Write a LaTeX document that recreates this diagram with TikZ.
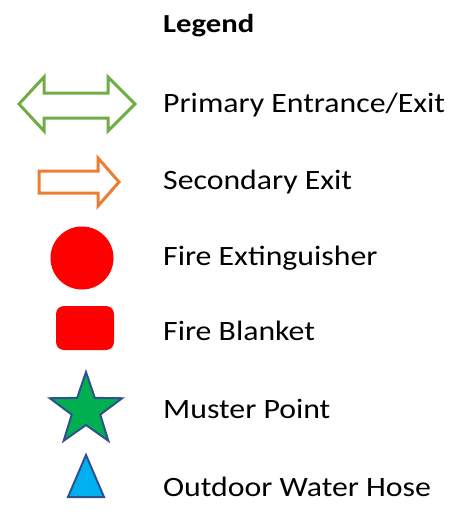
\documentclass[tikz,border=0pt]{standalone}
\usepackage{fontspec}
\setmainfont{Carlito}[FakeStretch=1.135]
\newfontfamily\legendfont{Carlito}[FakeStretch=1.18]
\definecolor{lgreen}{HTML}{70AD47}
\definecolor{lorange}{HTML}{ED7D31}
\definecolor{lred}{HTML}{FF0000}
\definecolor{sgreen}{HTML}{00B050}
\definecolor{sblue}{HTML}{00B0F0}
\definecolor{dblue}{HTML}{2F528F}
\tikzset{
  lbl/.style={anchor=base west, inner sep=0pt, font=\fontsize{28}{30}\selectfont},
  ttl/.style={anchor=base west, inner sep=0pt, font=\legendfont\fontsize{26}{28}\selectfont\bfseries},
  arrowshape/.style={line width=3pt, line join=miter, fill=white},
  redfill/.style={fill=lred, draw=none},
  blueedge/.style={draw=dblue, line width=2pt, line join=miter}
}
\begin{document}
\begin{tikzpicture}[x=1pt,y=-1pt]
\useasboundingbox (0,0) rectangle (462,519);
\node[ttl] (title) at (163,33) {Legend};
% primary double arrow
\draw[arrowshape, draw=lgreen] (19,104) -- (44,77) -- (44,93) -- (108,93) -- (108,77) -- (135,104) -- (108,131) -- (108,118) -- (44,118) -- (44,131) -- cycle;
\node[lbl] (primary) at (163,112) {Primary Entrance/Exit};
% secondary arrow
\draw[arrowshape, draw=lorange] (39,171) -- (98,171) -- (98,158) -- (119,182) -- (98,206) -- (98,193) -- (39,193) -- cycle;
\node[lbl] (secondary) at (163,189) {Secondary Exit};
% extinguisher
\fill[redfill] (82,258) circle (31.5);
\node[lbl] (ext) at (163,265) {Fire Extinguisher};
% blanket
\fill[redfill, rounded corners=8pt] (56,306) rectangle (114,350);
\node[lbl] (blanket) at (163,340) {Fire Blanket};
% muster star
\draw[blueedge, fill=sgreen] (86,410) +(-90:38) -- +(-54:15) -- +(-18:38) -- +(18:15) -- +(54:38) -- +(90:15) -- +(126:38) -- +(162:15) -- +(198:38) -- +(234:15) -- cycle;
\node[lbl] (muster) at (163,418) {Muster Point};
% hose triangle
\draw[blueedge, fill=sblue] (86,455) -- (104,497) -- (68,497) -- cycle;
\node[lbl] (hose) at (163,496) {Outdoor Water Hose};
\end{tikzpicture}
\end{document}
